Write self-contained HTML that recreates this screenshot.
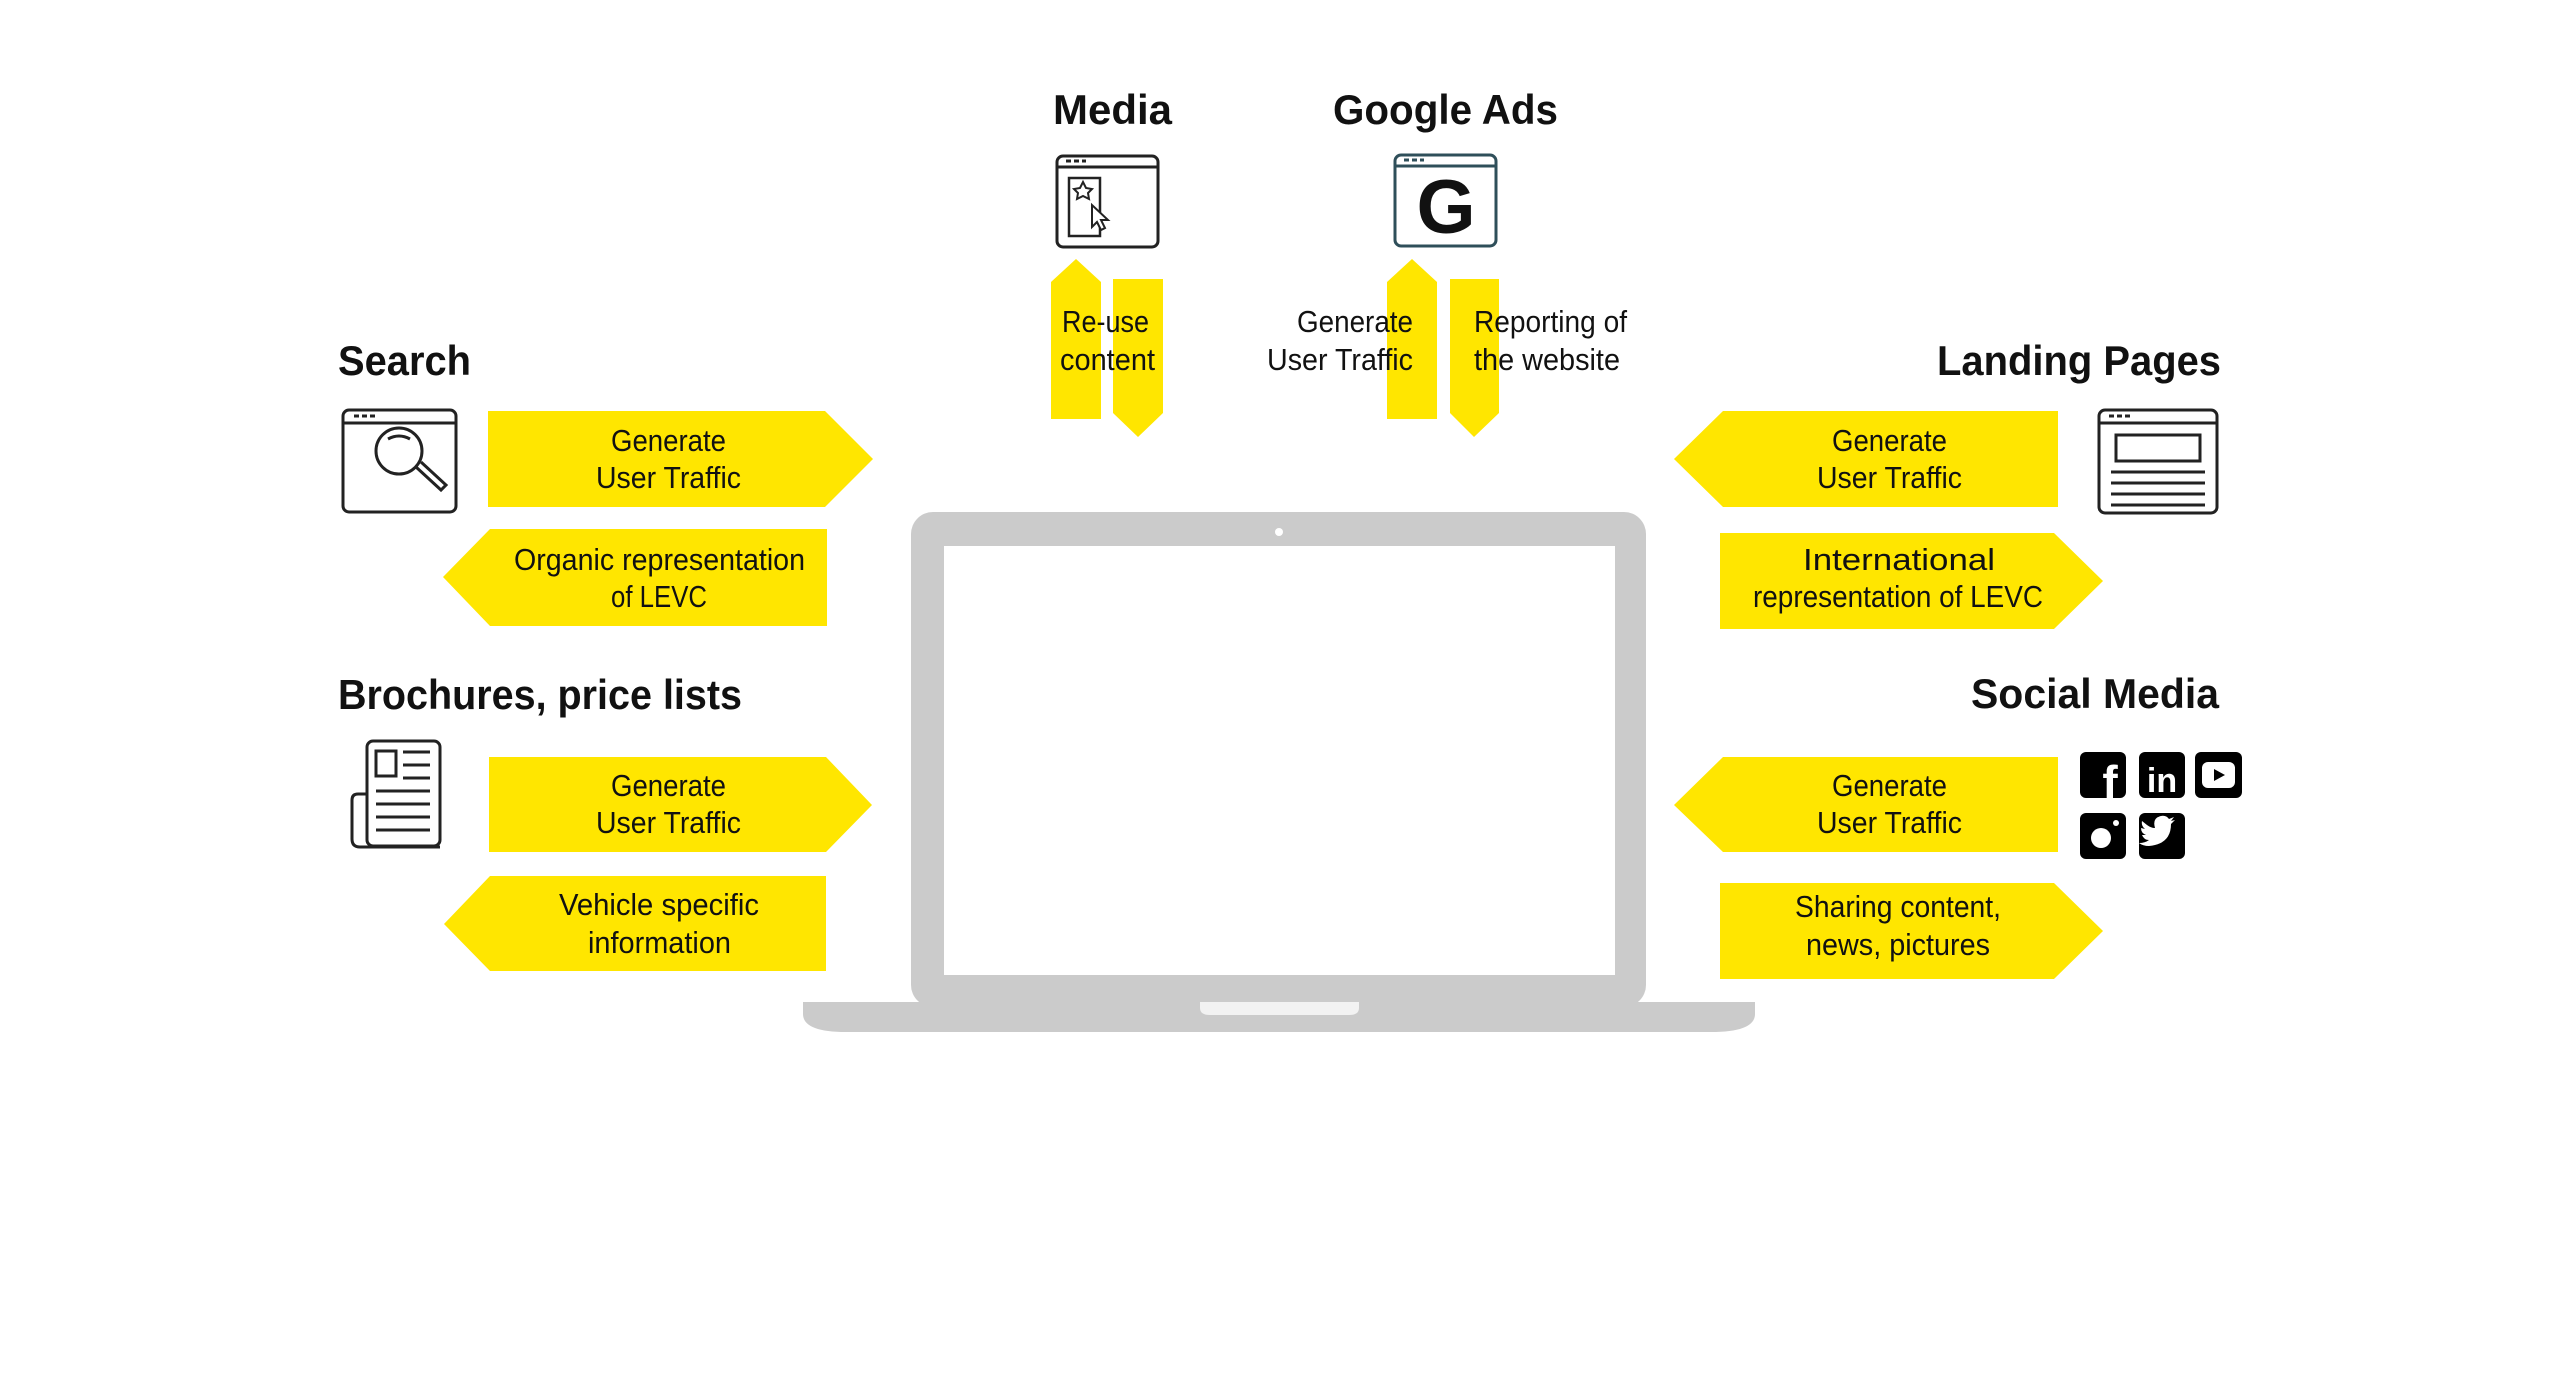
<!DOCTYPE html>
<html><head><meta charset="utf-8"><style>
html,body{margin:0;padding:0;background:#fff}
svg{display:block}
.h{font-family:"Liberation Sans",sans-serif;font-weight:bold;font-size:42px;fill:#111}
.t{font-family:"Liberation Sans",sans-serif;font-size:31px;fill:#111}
</style></head><body>
<svg width="2560" height="1391" viewBox="0 0 2560 1391" xmlns="http://www.w3.org/2000/svg">
<g fill="#ffe600">
<polygon points="488,411 825,411 873,459 825,507 488,507"/>
<polygon points="443,577 490,529 827,529 827,626 490,626"/>
<polygon points="489,757 826,757 872,805 826,852 489,852"/>
<polygon points="444,924 490,876 826,876 826,971 490,971"/>
<polygon points="1674,459 1723,411 2058,411 2058,507 1723,507"/>
<polygon points="1720,533 2054,533 2103,581 2054,629 1720,629"/>
<polygon points="1674,805 1723,757 2058,757 2058,852 1723,852"/>
<polygon points="1720,883 2054,883 2103,931 2054,979 1720,979"/>
<polygon points="1051,282 1076,259 1101,282 1101,419 1051,419"/>
<polygon points="1113,279 1163,279 1163,413 1138,437 1113,413"/>
<polygon points="1387,282 1412,259 1437,282 1437,419 1387,419"/>
<polygon points="1450,279 1499,279 1499,413 1474,437 1450,413"/>
</g>

<text class="h" x="338" y="375" textLength="133" lengthAdjust="spacingAndGlyphs">Search</text>
<text class="h" x="338" y="709" textLength="404" lengthAdjust="spacingAndGlyphs">Brochures, price lists</text>
<text class="h" x="1937" y="375" textLength="284" lengthAdjust="spacingAndGlyphs">Landing Pages</text>
<text class="h" x="1971" y="708" textLength="248" lengthAdjust="spacingAndGlyphs">Social Media</text>
<text class="h" x="1053" y="124" textLength="119" lengthAdjust="spacingAndGlyphs">Media</text>
<text class="h" x="1333" y="124" textLength="225" lengthAdjust="spacingAndGlyphs">Google Ads</text>

<g class="t">
<text x="611" y="451" textLength="115" lengthAdjust="spacingAndGlyphs">Generate</text>
<text x="596" y="488" textLength="145" lengthAdjust="spacingAndGlyphs">User Traffic</text>
<text x="514" y="570" textLength="291" lengthAdjust="spacingAndGlyphs">Organic representation</text>
<text x="611" y="607" textLength="96" lengthAdjust="spacingAndGlyphs">of LEVC</text>
<text x="611" y="796" textLength="115" lengthAdjust="spacingAndGlyphs">Generate</text>
<text x="596" y="833" textLength="145" lengthAdjust="spacingAndGlyphs">User Traffic</text>
<text x="559" y="915" textLength="200" lengthAdjust="spacingAndGlyphs">Vehicle specific</text>
<text x="588" y="953" textLength="143" lengthAdjust="spacingAndGlyphs">information</text>

<text x="1832" y="451" textLength="115" lengthAdjust="spacingAndGlyphs">Generate</text>
<text x="1817" y="488" textLength="145" lengthAdjust="spacingAndGlyphs">User Traffic</text>
<text x="1803" y="570" textLength="192" lengthAdjust="spacingAndGlyphs">International</text>
<text x="1753" y="607" textLength="290" lengthAdjust="spacingAndGlyphs">representation of LEVC</text>
<text x="1832" y="796" textLength="115" lengthAdjust="spacingAndGlyphs">Generate</text>
<text x="1817" y="833" textLength="145" lengthAdjust="spacingAndGlyphs">User Traffic</text>
<text x="1795" y="917" textLength="206" lengthAdjust="spacingAndGlyphs">Sharing content,</text>
<text x="1806" y="955" textLength="184" lengthAdjust="spacingAndGlyphs">news, pictures</text>

<text x="1062" y="332" textLength="87" lengthAdjust="spacingAndGlyphs">Re-use</text>
<text x="1060" y="370" textLength="95" lengthAdjust="spacingAndGlyphs">content</text>
<text x="1297" y="332" textLength="116" lengthAdjust="spacingAndGlyphs">Generate</text>
<text x="1267" y="370" textLength="146" lengthAdjust="spacingAndGlyphs">User Traffic</text>
<text x="1474" y="332" textLength="153" lengthAdjust="spacingAndGlyphs">Reporting of</text>
<text x="1474" y="370" textLength="146" lengthAdjust="spacingAndGlyphs">the website</text>
</g>

<!-- Laptop -->
<rect x="911" y="512" width="735" height="495" rx="22" fill="#cbcbcb"/>
<rect x="944" y="546" width="671" height="429" fill="#fff"/>
<circle cx="1279" cy="532" r="4" fill="#fff"/>
<path d="M803,1002 H1755 V1014 Q1755,1032 1711,1032 H846 Q803,1032 803,1014 Z" fill="#cbcbcb"/>
<path d="M1200,1002 H1359 V1008 Q1359,1015 1349,1015 H1210 Q1200,1015 1200,1008 Z" fill="#f2f2f2"/>

<!-- Search icon -->
<g fill="none" stroke="#222" stroke-width="3">
<rect x="343" y="410" width="113" height="102" rx="6"/>
<line x1="343" y1="423" x2="456" y2="423"/>
<line x1="354" y1="416" x2="378" y2="416" stroke-dasharray="5,3"/>
<circle cx="399" cy="451" r="23"/>
<path d="M416,467 L441,490 L446,485 L421,462"/>
<path d="M388,439 Q399,433 410,439"/>
</g>
<!-- Brochure icon -->
<g fill="none" stroke="#222" stroke-width="3">
<rect x="367" y="741" width="73" height="105" rx="6"/>
<path d="M367,794 H358 Q352,794 352,800 V839 Q352,847 360,847 H440"/>
<rect x="376" y="751" width="20" height="25"/>
<line x1="403" y1="752" x2="430" y2="752"/><line x1="403" y1="765" x2="430" y2="765"/><line x1="403" y1="778" x2="430" y2="778"/>
<line x1="376" y1="791" x2="430" y2="791"/><line x1="376" y1="804" x2="430" y2="804"/><line x1="376" y1="817" x2="430" y2="817"/><line x1="376" y1="830" x2="430" y2="830"/>
</g>
<!-- Landing icon -->
<g fill="none" stroke="#222" stroke-width="3">
<rect x="2099" y="410" width="118" height="103" rx="6"/>
<line x1="2099" y1="423" x2="2217" y2="423"/>
<line x1="2109" y1="416" x2="2131" y2="416" stroke-dasharray="5,3"/>
<rect x="2116" y="435" width="84" height="26"/>
<line x1="2111" y1="472" x2="2205" y2="472"/><line x1="2111" y1="483" x2="2205" y2="483"/><line x1="2111" y1="494" x2="2205" y2="494"/><line x1="2111" y1="505" x2="2205" y2="505"/>
</g>
<!-- Media icon -->
<g fill="none" stroke="#222" stroke-width="3">
<rect x="1057" y="156" width="101" height="91" rx="6"/>
<line x1="1057" y1="167" x2="1158" y2="167"/>
<line x1="1066" y1="161" x2="1086" y2="161" stroke-dasharray="5,3"/>
<rect x="1069" y="178" width="31" height="58" stroke-width="2.5"/>
<path d="M1083,182 l3,6 6,1 -4,4 1,6 -6,-3 -6,3 1,-6 -4,-4 6,-1z" stroke-width="2"/>
<path d="M1092,205 l0,22 5,-5 4,8 4,-2 -4,-8 7,0z" fill="#fff" stroke-width="2"/>
</g>
<!-- Google icon -->
<g fill="none" stroke="#2f4f5a" stroke-width="3">
<rect x="1395" y="155" width="101" height="91" rx="6"/>
<line x1="1395" y1="166" x2="1496" y2="166"/>
<line x1="1404" y1="160" x2="1424" y2="160" stroke-dasharray="5,3"/>
</g>
<text x="1446" y="233" text-anchor="middle" style="font-family:'Liberation Sans',sans-serif;font-weight:bold;font-size:76px;fill:#111">G</text>

<!-- Social icons -->
<g fill="#000">
<rect x="2080" y="752" width="46" height="46" rx="6"/>
<rect x="2139" y="752" width="46" height="46" rx="6"/>
<rect x="2195" y="752" width="47" height="46" rx="6"/>
<rect x="2080" y="813" width="46" height="46" rx="6"/>
<rect x="2139" y="813" width="46" height="46" rx="6"/>
</g>
<text x="2110" y="798" text-anchor="middle" style="font-family:'Liberation Sans',sans-serif;font-weight:bold;font-size:46px;fill:#fff">f</text>
<text x="2162" y="792" text-anchor="middle" style="font-family:'Liberation Sans',sans-serif;font-weight:bold;font-size:34px;fill:#fff">in</text>
<rect x="2202" y="762" width="33" height="26" rx="6" fill="#fff"/>
<polygon points="2214,769 2225,775 2214,781" fill="#000"/>
<circle cx="2101" cy="838" r="10" fill="#fff"/>
<circle cx="2116" cy="823" r="3" fill="#fff"/>
<path d="M2147,825 q4,3 8,3 q-3,-10 6,-12 q5,-1 8,3 l5,-2 -3,4 4,-1 -4,4 q0,20 -22,22 q-6,0 -10,-3 q6,0 10,-3 q-5,0 -7,-5 l4,0 q-5,-2 -5,-7 l4,1 q-4,-3 -3,-8z" fill="#fff"/>
</svg>
</body></html>
